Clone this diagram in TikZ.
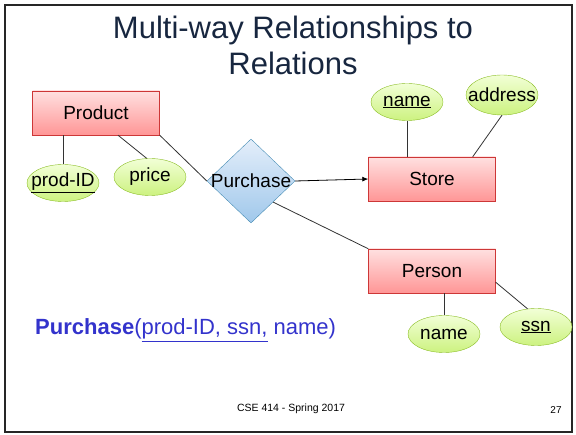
\documentclass[tikz,border=0pt]{standalone}
\usepackage{fontspec}
\setmainfont{Liberation Sans}
\usetikzlibrary{shapes.geometric,arrows.meta}
\definecolor{titleblue}{RGB}{23,38,63}
\definecolor{relblue}{RGB}{51,51,204}
\definecolor{enttop}{RGB}{255,224,224}
\definecolor{entbot}{RGB}{255,150,150}
\definecolor{entline}{RGB}{205,55,55}
\definecolor{atttop}{RGB}{242,255,214}
\definecolor{attbot}{RGB}{204,242,128}
\definecolor{attline}{RGB}{140,190,40}
\definecolor{reltop}{RGB}{228,238,250}
\definecolor{relbot}{RGB}{160,200,235}
\definecolor{relline}{RGB}{70,140,180}
\tikzset{
  entity/.style={rectangle, draw=entline, top color=enttop, bottom color=entbot,
    minimum width=127pt, minimum height=44pt, font=\fontsize{19}{22}\selectfont},
  attr/.style={ellipse, draw=attline, top color=atttop, bottom color=attbot,
    minimum width=72pt, minimum height=37pt, inner sep=0pt, font=\fontsize{19}{22}\selectfont},
  relship/.style={diamond, draw=relline, top color=reltop, bottom color=relbot,
    minimum width=88pt, minimum height=84pt, inner sep=0pt, font=\fontsize{19}{22}\selectfont},
  title/.style={anchor=base, text=titleblue, font=\fontsize{31}{36}\selectfont}
}
\newcommand{\entity}[3]{\node[entity] (#1) at (#2) {#3};}
\newcommand{\attrib}[3]{\node[attr] (#1) at (#2) {\makebox[0pt]{#3}};}
\newcommand{\drawlink}{\draw[line width=.8pt, black!80]}

\begin{document}
\begin{tikzpicture}[x=1pt,y=-1pt]
\useasboundingbox (0,0) rectangle (576,435);
\draw[line width=2pt, black!85] (5,5) rectangle (572,432);
\node[title] (title1) at (293,39) {Multi-way Relationships to};
\node[title] (title2) at (293,75) {Relations};
% entities and the relationship
\entity{product}{96,113}{Product}
\entity{store}{432,179}{Store}
\entity{person}{432,271}{Person}
\node[relship] (purchase) at (251,181) {\makebox[0pt]{Purchase}};
% attributes
\attrib{prodid}{63,183}{\underline{prod-ID}}
\attrib{price}{150,177}{price}
\attrib{sname}{407,102}{\underline{name}}
\node[attr, minimum height=40pt] (address) at (502,95) {\makebox[0pt]{address}};
\attrib{pname}{444,334}{name}
\attrib{ssn}{536,327}{\underline{ssn}}
% links
\drawlink (prodid.north) -- (prodid.north |- product.south);
\drawlink (price.100) -- ([xshift=22pt]product.south);
\drawlink (product.south east) -- (purchase.west);
\draw[line width=.8pt, -{Latex[length=6pt,width=5pt]}] (purchase.east) -- (store.west);
\drawlink (purchase.south east) -- (person.north west);
\drawlink (sname.south) -- (sname.south |- store.north);
\drawlink (address.south) -- ([xshift=-23pt]store.north east);
\drawlink (pname.north) -- (pname.north |- person.south);
\drawlink (ssn.115) -- (person.-10);
% relation schema and footer
\node[anchor=base west, inner sep=0pt, text=relblue, font=\fontsize{22}{26}\selectfont] (schema) at (35,335)
  {\textbf{Purchase}(\underline{prod-ID, ssn,} name)};
\node[anchor=base, font=\fontsize{10.5}{12}\selectfont] (footer) at (291,412) {CSE 414 - Spring 2017};
\node[anchor=base, font=\fontsize{10}{12}\selectfont] (pagenum) at (556,414) {27};
\end{tikzpicture}
\end{document}
